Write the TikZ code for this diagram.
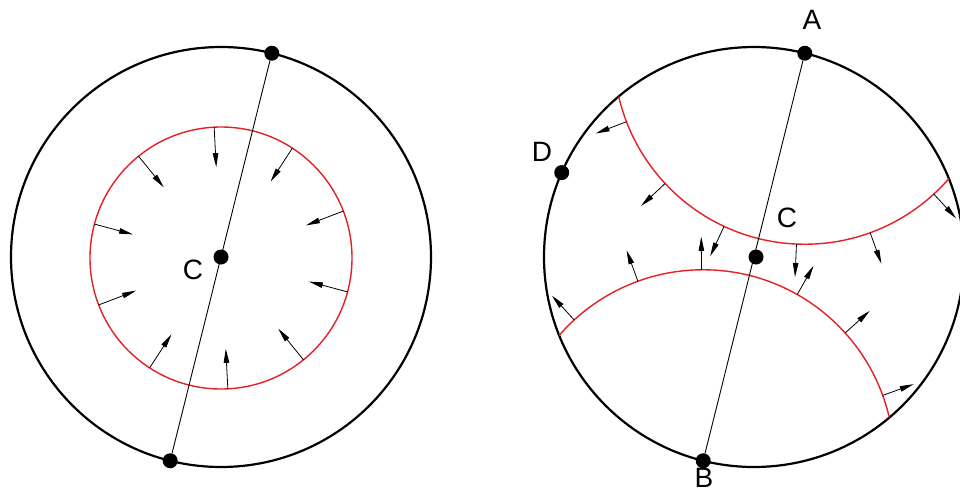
\documentclass[tikz,border=0pt]{standalone}
\usepackage{fontspec}
\setmainfont{Liberation Sans}
\usetikzlibrary{arrows.meta,calc}
\definecolor{wavered}{RGB}{228,32,38}
\begin{document}
\begin{tikzpicture}[x=1pt,y=-1pt,
  bigcirc/.style={line width=2.2pt,black},
  wave/.style={line width=1.4pt,wavered},
  push/.style={line width=0.8pt,-{Triangle[length=14pt,width=5.5pt]}},
  dot/.style={circle,fill=black,inner sep=0pt,minimum size=15pt},
  lbl/.style={font=\fontsize{28}{30}\selectfont,inner sep=0pt},
  chord/.style={line width=0.9pt}]
\useasboundingbox (0,0) rectangle (960,493);
% centres
\coordinate (lc) at (221,257);
\coordinate (lrc) at (221,258);
\coordinate (rc) at (754,257);
\coordinate (pA) at ($(rc)+(-76:210)$);
\coordinate (pB) at ($(rc)+(104:210)$);
\coordinate (pD) at ($(rc)+(-156.3:210)$);
\coordinate (pC) at (756,257);
% outer circles
\draw[bigcirc] (lc) circle[radius=210pt];
\draw[bigcirc] (rc) circle[radius=210pt];
% left: converging wave
\draw[wave] (lrc) circle[radius=131pt];
\foreach \a in {21,57,...,345}
  \draw[push] ($(lrc)+(-\a:131)$) -- ($(lrc)+(-\a:91)$);
% right: diverging waves from A and B
\begin{scope}
  \clip (rc) circle[radius=210pt];
  \draw[wave] (pA) circle[radius=191pt];
  \draw[wave] (pB) circle[radius=191pt];
\end{scope}
\foreach \a in {159,137,115,92.5,70,47.5}
  \draw[push] ($(pA)+(\a:191)$) -- ($(pA)+(\a:224)$);
\foreach \a in {-132.5,-110,-90.5,-60.5,-42,-20}
  \draw[push] ($(pB)+(\a:191)$) -- ($(pB)+(\a:224)$);
% dots
\node[dot] (ltop) at ($(lc)+(-76:210)$) {};
\node[dot] (lbot) at ($(lc)+(104:210)$) {};
\node[dot] (lC) at (lc) {};
\node[dot] (dA) at (pA) {};
\node[dot] (dB) at (pB) {};
\node[dot] (dD) at (pD) {};
\node[dot] (rC) at (pC) {};
% chords
\draw[chord] (ltop) -- (lbot);
\draw[chord] (dA) -- (dB);
% labels
\node[lbl] (labCl) at (193,270) {C};
\node[lbl] (labCr) at (787,218) {C};
\node[lbl] (labA) at (812,20) {A};
\node[lbl] (labB) at (704,478) {B};
\node[lbl] (labD) at (542,152) {D};
\end{tikzpicture}
\end{document}
